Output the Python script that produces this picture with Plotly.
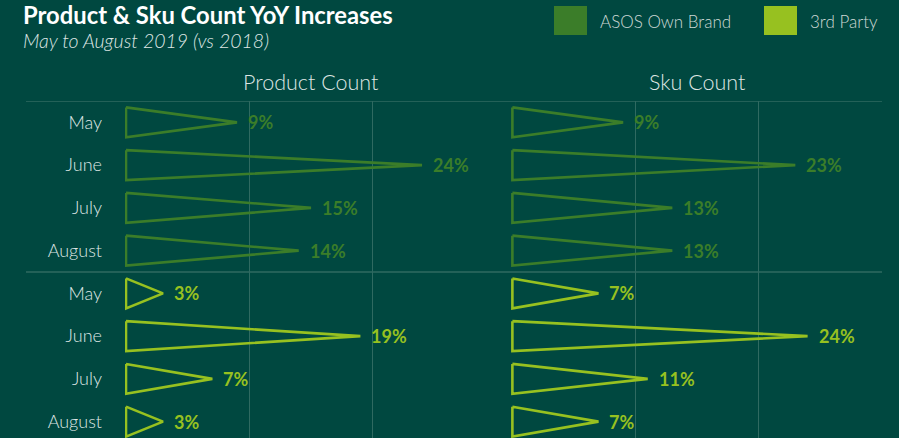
import plotly.graph_objects as go

# ---- data ----
months = ["May", "June", "July", "August"]
own_brand_product = [9, 24, 15, 14]
own_brand_sku = [9, 23, 13, 13]
third_party_product = [3, 19, 7, 3]
third_party_sku = [7, 24, 11, 7]
panel_titles = ["Product Count", "Sku Count"]
series_names = ["ASOS Own Brand", "3rd Party"]

# ---- style ----
BG = "#004840"
GRID = "#2f6a61"
OWN = "#3b7d29"
THIRD = "#97c120"
TEXT = "#dfe6e4"
FONT = "Lato"

W, H = 899, 438
ML, MR, MT, MB = 125, 17, 101, 0
PW, PH = W - ML - MR, H - MT - MB


def px(x):
    """pixel x -> paper x"""
    return (x - ML) / PW


def py(y):
    """pixel y -> paper y"""
    return (H - y) / PH


HALF = 0.35  # half height of each triangle, in rows

fig = go.Figure()


def add_triangles(values, offset, color, xref):
    xs, ys = [], []
    for i, v in enumerate(values):
        r = i + offset
        xs += [0, v, 0, 0, None]
        ys += [r - HALF, r, r + HALF, r - HALF, None]
    fig.add_trace(go.Scatter(
        x=xs, y=ys, mode="lines", xaxis=xref, yaxis="y",
        line=dict(color=color, width=2.6), fill=None,
        hoverinfo="skip", showlegend=False, cliponaxis=False,
    ))
    for i, v in enumerate(values):
        fig.add_annotation(
            x=v, y=i + offset, xref=xref, yref="y", text=f"<b>{v}%</b>",
            showarrow=False, xanchor="left", yanchor="middle", xshift=9,
            font=dict(family=FONT, size=18, color=color),
        )


add_triangles(own_brand_product, 0, OWN, "x")
add_triangles(own_brand_sku, 0, OWN, "x2")
add_triangles(third_party_product, 4, THIRD, "x")
add_triangles(third_party_sku, 4, THIRD, "x2")

split = (497 - ML) / PW
fig.update_layout(
    width=W, height=H,
    margin=dict(l=ML, r=MR, t=MT, b=MB, pad=0),
    paper_bgcolor=BG, plot_bgcolor=BG,
    showlegend=False,
    xaxis=dict(domain=[0, split], range=[-0.08, 30.08], tickvals=[0, 10, 20, 30],
               showticklabels=False, showgrid=True, gridcolor=GRID, gridwidth=1,
               zeroline=False, showline=False, fixedrange=True),
    xaxis2=dict(domain=[split, 1], range=[-1.25, 30.05], tickvals=[10, 20, 30],
                showticklabels=False, showgrid=True, gridcolor=GRID, gridwidth=1,
                zeroline=False, showline=False, anchor="y", fixedrange=True),
    yaxis=dict(range=[7.5 - (8 * 42.75 - PH) / 42.75, -0.5],
               tickvals=list(range(8)), ticktext=months * 2,
               showgrid=False, zeroline=False, showline=False, ticks="",
               ticklabelstandoff=22,
               tickfont=dict(family=FONT, size=18, color=TEXT, weight=300),
               fixedrange=True),
)

# row-group separators
for yv in (-0.5, 3.5):
    fig.add_shape(type="line", xref="paper", yref="y", x0=px(26), x1=1,
                  y0=yv, y1=yv, line=dict(color=GRID, width=1.3))

# panel headers
fig.add_annotation(x=px((125 + 497) / 2), y=py(82), xref="paper", yref="paper",
                   text=panel_titles[0], showarrow=False, xanchor="center", yanchor="middle",
                   font=dict(family=FONT, size=21.5, color=TEXT, weight=300))
fig.add_annotation(x=px((512 + 882) / 2), y=py(82), xref="paper", yref="paper",
                   text=panel_titles[1], showarrow=False, xanchor="center", yanchor="middle",
                   font=dict(family=FONT, size=21.5, color=TEXT, weight=300))

# title and subtitle
fig.add_annotation(x=px(21), y=py(15), xref="paper", yref="paper",
                   text="<b>Product & Sku Count YoY Increases</b>", showarrow=False,
                   xanchor="left", yanchor="middle",
                   font=dict(family=FONT, size=23.8, color="#ffffff"))
fig.add_annotation(x=px(21), y=py(40), xref="paper", yref="paper",
                   text="<i>May to August 2019 (vs 2018)</i>", showarrow=False,
                   xanchor="left", yanchor="middle",
                   font=dict(family=FONT, size=19.5, color=TEXT, weight=300))

# legend
for name, color, x0 in zip(series_names, [OWN, THIRD], [554, 764]):
    fig.add_shape(type="rect", xref="paper", yref="paper",
                  x0=px(x0), x1=px(x0 + 33), y0=py(35), y1=py(6),
                  fillcolor=color, line=dict(width=0))
    fig.add_annotation(x=px(x0 + 44), y=py(21), xref="paper", yref="paper",
                       text=name, showarrow=False, xanchor="left", yanchor="middle",
                       font=dict(family=FONT, size=17, color="#cdd8d5", weight=300))

fig.write_html("out.html")
